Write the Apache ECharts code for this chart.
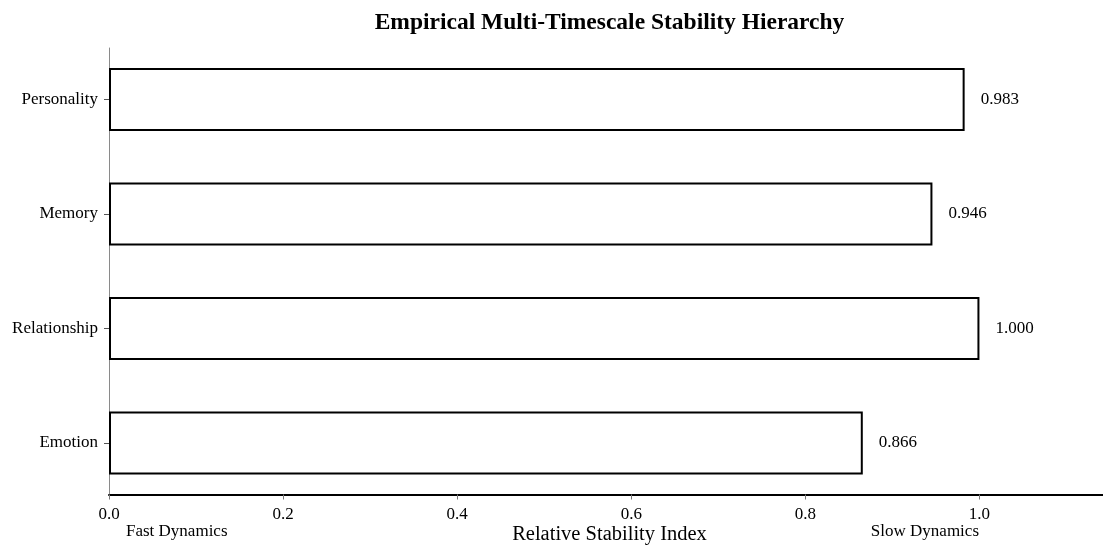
<!DOCTYPE html>
<html>
<head>
<meta charset="utf-8">
<script src="https://cdn.jsdelivr.net/npm/echarts@6/dist/echarts.min.js"></script>
<style>
html,body{margin:0;padding:0;background:#fff;}
#chart{width:1103px;height:547px;}
</style>
</head>
<body>
<div id="chart"></div>
<script>
var categories = ['Emotion', 'Relationship', 'Memory', 'Personality'];
var stabilityValues = [0.866, 1.000, 0.946, 0.983];
var titleText = 'Empirical Multi-Timescale Stability Hierarchy';
var xAxisTitle = 'Relative Stability Index';
var leftNote = 'Fast Dynamics';
var rightNote = 'Slow Dynamics';

var FONT = '"Liberation Serif", "Times New Roman", serif';
var chart = echarts.init(document.getElementById('chart'), null, {renderer: 'canvas'});

chart.setOption({
  animation: false,
  backgroundColor: '#ffffff',
  grid: [
    {left: 109, width: 1001, top: 42.3, bottom: 46.8, containLabel: false, outerBoundsMode: 'none'},
    {left: 109, width: 1001, top: 48, bottom: 52.5, containLabel: false, outerBoundsMode: 'none'}
  ],
  xAxis: [
    {gridIndex: 0, type: 'value', min: 0, max: 1.15, show: false},
    {
      gridIndex: 1, type: 'value', min: 0, max: 1.15, interval: 0.2,
      axisLine: {show: true, onZero: false, lineStyle: {color: '#000', width: 2}},
      axisTick: {show: true, length: 5, lineStyle: {color: '#777', width: 1}},
      axisLabel: {
        show: true, margin: 12, fontSize: 17, color: '#000', fontFamily: FONT,
        showMaxLabel: false,
        formatter: function (v) { return v.toFixed(1); }
      },
      splitLine: {show: false},
      name: xAxisTitle,
      nameLocation: 'middle',
      nameGap: 30,
      nameMoveOverlap: false,
      nameTextStyle: {fontSize: 20.5, color: '#000', fontFamily: FONT}
    }
  ],
  yAxis: [
    {
      gridIndex: 0, type: 'category', data: categories,
      axisLine: {show: false},
      axisTick: {show: true, alignWithLabel: true, length: 5, lineStyle: {color: '#555', width: 1}},
      axisLabel: {show: true, margin: 11, fontSize: 17, color: '#000', fontFamily: FONT},
      splitLine: {show: false}
    },
    {
      gridIndex: 1, type: 'value', min: 0, max: 1,
      axisLine: {show: true, onZero: false, lineStyle: {color: '#8a8a8a', width: 1}},
      axisTick: {show: false},
      axisLabel: {show: false},
      splitLine: {show: false}
    }
  ],
  series: [
    {
      type: 'bar',
      xAxisIndex: 0,
      yAxisIndex: 0,
      data: stabilityValues,
      barWidth: 63,
      itemStyle: {color: '#ffffff', borderColor: '#000000', borderWidth: 2},
      label: {
        show: true, position: 'right', distance: 16,
        fontSize: 17, color: '#000', fontFamily: FONT,
        formatter: function (p) { return p.value.toFixed(3); }
      }
    }
  ],
  graphic: [
    {
      type: 'text', x: 609.5, y: 23,
      style: {text: titleText, font: 'bold 23.5px ' + FONT, fill: '#000', align: 'center', verticalAlign: 'middle'}
    },
    {
      type: 'text', x: 126, y: 532,
      style: {text: leftNote, font: '17px ' + FONT, fill: '#000', align: 'left', verticalAlign: 'middle'}
    },
    {
      type: 'text', x: 979, y: 532,
      style: {text: rightNote, font: '17px ' + FONT, fill: '#000', align: 'right', verticalAlign: 'middle'}
    }
  ]
});
</script>
</body>
</html>
